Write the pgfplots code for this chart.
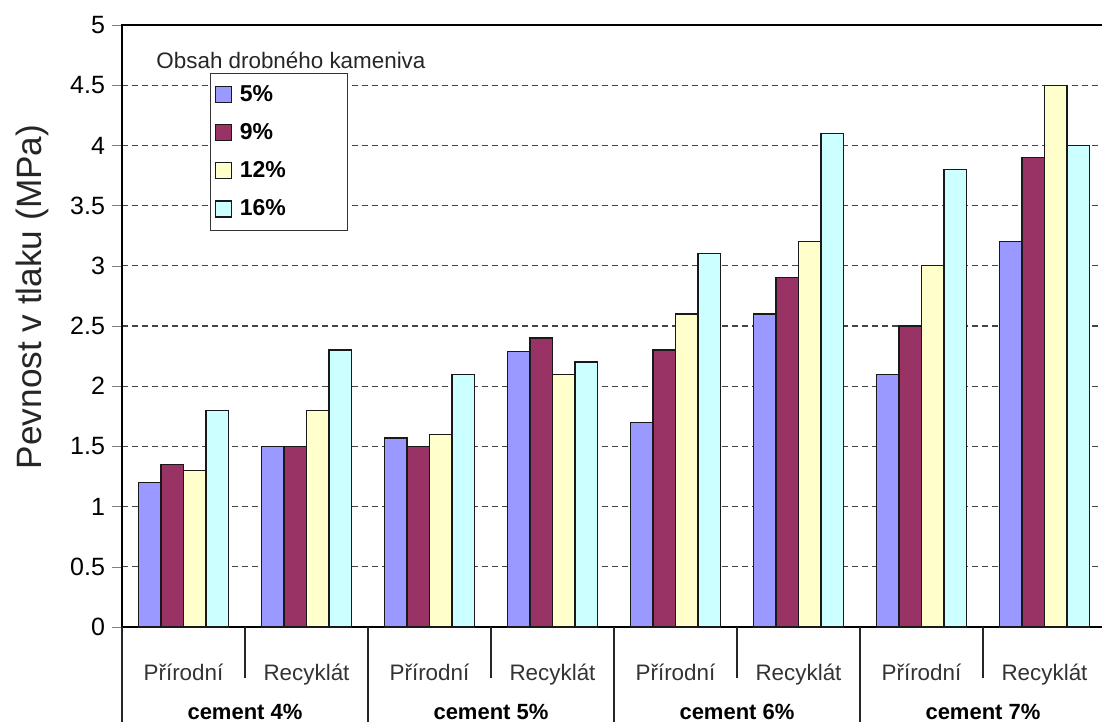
\documentclass[border=0pt]{standalone}
\usepackage{fontspec}
\setmainfont{Liberation Sans}
\usepackage{pgfplots}
\pgfplotsset{compat=1.18}

\definecolor{kA}{HTML}{9999FF}
\definecolor{kB}{HTML}{993366}
\definecolor{kC}{HTML}{FFFFCC}
\definecolor{kD}{HTML}{CCFFFF}
\definecolor{gridgray}{HTML}{444444}

\tikzset{
  sepline/.style={line width=0.8pt, black!85},
  grp/.style={font=\bfseries\fontsize{11}{13}\selectfont},
}
\newcommand\legtext[1]{\makebox[50pt][l]{#1}}

\begin{document}
\begin{tikzpicture}
\begin{axis}[
  at={(61pt,47.5pt)}, anchor=south west,
  scale only axis, width=492pt, height=301pt,
  xmin=-0.5, xmax=7.5, ymin=0, ymax=5,
  ybar=0pt, bar width=11.25pt,
  every axis plot/.append style={draw=black!90, line width=0.65pt,
    legend image code/.code={\draw[##1, line width=0.6pt] (0pt,-4pt) rectangle (8pt,4pt);}},
  ytick={0,0.5,1,1.5,2,2.5,3,3.5,4,4.5,5},
  ytick pos=left,
  tick align=outside, major tick length=5pt,
  ymajorgrids,
  grid style={gridgray, line width=0.6pt, dash pattern=on 3pt off 2pt},
  xtick={0,1,2,3,4,5,6,7},
  xticklabels={Přírodní,Recyklát,Přírodní,Recyklát,Přírodní,Recyklát,Přírodní,Recyklát},
  xtick style={draw=none},
  xticklabel style={anchor=base, yshift=-21.5pt, font=\fontsize{11.2}{13}\selectfont, text=black!80},
  yticklabel style={font=\fontsize{12.5}{14}\selectfont},
  /pgf/number format/assume math mode=true,
  axis line style={line width=0.8pt},
  clip=false,
  legend style={at={(axis description cs:0.0894,0.9208)}, anchor=north west,
    draw=black!80, line width=0.6pt, inner xsep=2pt, inner ysep=4pt,
    row sep=5.5pt, column sep=2pt, font=\bfseries\fontsize{11.5}{13}\selectfont},
  legend cell align=left,
]
% Přírodní / Recyklát for cement 4 %, 5 %, 6 %, 7 %
\addplot[fill=kA] coordinates {(0,1.2) (1,1.5) (2,1.57) (3,2.29) (4,1.7) (5,2.6) (6,2.1) (7,3.2)};
\addplot[fill=kB] coordinates {(0,1.35) (1,1.5) (2,1.5) (3,2.4) (4,2.3) (5,2.9) (6,2.5) (7,3.9)};
\addplot[fill=kC] coordinates {(0,1.3) (1,1.8) (2,1.6) (3,2.1) (4,2.6) (5,3.2) (6,3.0) (7,4.5)};
\addplot[fill=kD] coordinates {(0,1.8) (1,2.3) (2,2.1) (3,2.2) (4,3.1) (5,4.1) (6,3.8) (7,4.0)};
\addlegendentry{\legtext{5\%}}
\addlegendentry{\legtext{9\%}}
\addlegendentry{\legtext{12\%}}
\addlegendentry{\legtext{16\%}}

% legend heading
\node[font=\fontsize{11.2}{13}\selectfont, text=black!85] at (axis description cs:0.1717,0.942) {Obsah drobného kameniva};

% two-level category separators
\draw[sepline] (axis cs:0.5,0) -- ([yshift=-25.5pt]axis cs:0.5,0);
\draw[sepline] (axis cs:2.5,0) -- ([yshift=-25.5pt]axis cs:2.5,0);
\draw[sepline] (axis cs:4.5,0) -- ([yshift=-25.5pt]axis cs:4.5,0);
\draw[sepline] (axis cs:6.5,0) -- ([yshift=-25.5pt]axis cs:6.5,0);
\draw[sepline] (axis cs:-0.5,0) -- ([yshift=-50pt]axis cs:-0.5,0);
\draw[sepline] (axis cs:1.5,0) -- ([yshift=-50pt]axis cs:1.5,0);
\draw[sepline] (axis cs:3.5,0) -- ([yshift=-50pt]axis cs:3.5,0);
\draw[sepline] (axis cs:5.5,0) -- ([yshift=-50pt]axis cs:5.5,0);
\draw[sepline] (axis cs:7.5,0) -- ([yshift=-50pt]axis cs:7.5,0);
\node[grp] at ([yshift=-42.5pt]axis cs:0.5,0) {cement 4\%};
\node[grp] at ([yshift=-42.5pt]axis cs:2.5,0) {cement 5\%};
\node[grp] at ([yshift=-42.5pt]axis cs:4.5,0) {cement 6\%};
\node[grp] at ([yshift=-42.5pt]axis cs:6.5,0) {cement 7\%};
\end{axis}
\node[rotate=90, font=\fontsize{17.6}{20}\selectfont, text=black!85] at (16pt,212.5pt) {Pevnost v tlaku (MPa)};
\pgfresetboundingbox
\useasboundingbox (0,0) rectangle (551pt,361pt);
\end{tikzpicture}
\end{document}
